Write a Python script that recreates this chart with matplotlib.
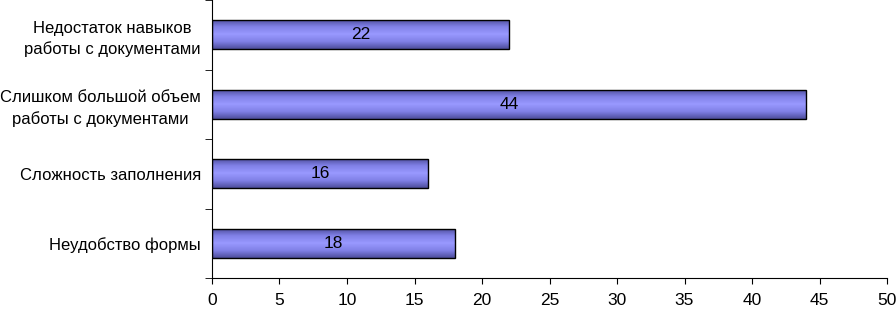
import numpy as np
import matplotlib.pyplot as plt
from matplotlib.colors import LinearSegmentedColormap

plt.rcParams['font.family'] = ['Liberation Sans', 'DejaVu Sans']

# Data (top to bottom in the picture)
categories = ['Недостаток навыков\nработы с документами',
              'Слишком большой объем\nработы с документами',
              'Сложность заполнения',
              'Неудобство формы']
values = [22, 44, 16, 18]
xticks = [0, 5, 10, 15, 20, 25, 30, 35, 40, 45, 50]

fig = plt.figure(figsize=(8.96, 3.10), dpi=100)
ax = fig.add_axes([0.2366, 0.1032, 0.99 - 0.2366, 0.8968])

ypos = np.arange(len(categories))[::-1]
bars = ax.barh(ypos, values, height=0.42, color='none', edgecolor='#000000',
               linewidth=1.0, zorder=3)

# vertical gradient inside each bar (darker edges, light middle)
cmap = LinearSegmentedColormap.from_list(
    'bar', ['#4c4c99', '#8080e6', '#9999ff', '#8080e6', '#4c4c99'])
grad = np.linspace(0, 1, 256).reshape(-1, 1)
for bar in bars:
    x0, y0 = bar.get_x(), bar.get_y()
    w, h = bar.get_width(), bar.get_height()
    im = ax.imshow(grad, cmap=cmap, aspect='auto', extent=[x0, x0 + w, y0, y0 + h],
                   zorder=2, interpolation='bilinear')
    im.set_clip_path(bar)

for y, v in zip(ypos, values):
    ax.text(v / 2, y, str(v), ha='center', va='center', fontsize=12.5, zorder=4)

ax.set_xlim(0, 50)
ax.set_ylim(-0.5, len(categories) - 0.5)
ax.set_xticks(xticks)
ax.set_yticks(ypos)
ax.set_yticklabels(categories, multialignment='center', linespacing=1.45)
ax.tick_params(axis='y', length=0, pad=8, labelsize=12)
ax.tick_params(axis='x', length=4, pad=7, labelsize=12.5)
# y tick marks between categories
ax.set_yticks(np.arange(-0.5, len(categories), 1.0), minor=True)
ax.tick_params(axis='y', which='minor', length=5)

ax.spines['top'].set_visible(False)
ax.spines['right'].set_visible(False)

fig.savefig('out.png', dpi=100)
